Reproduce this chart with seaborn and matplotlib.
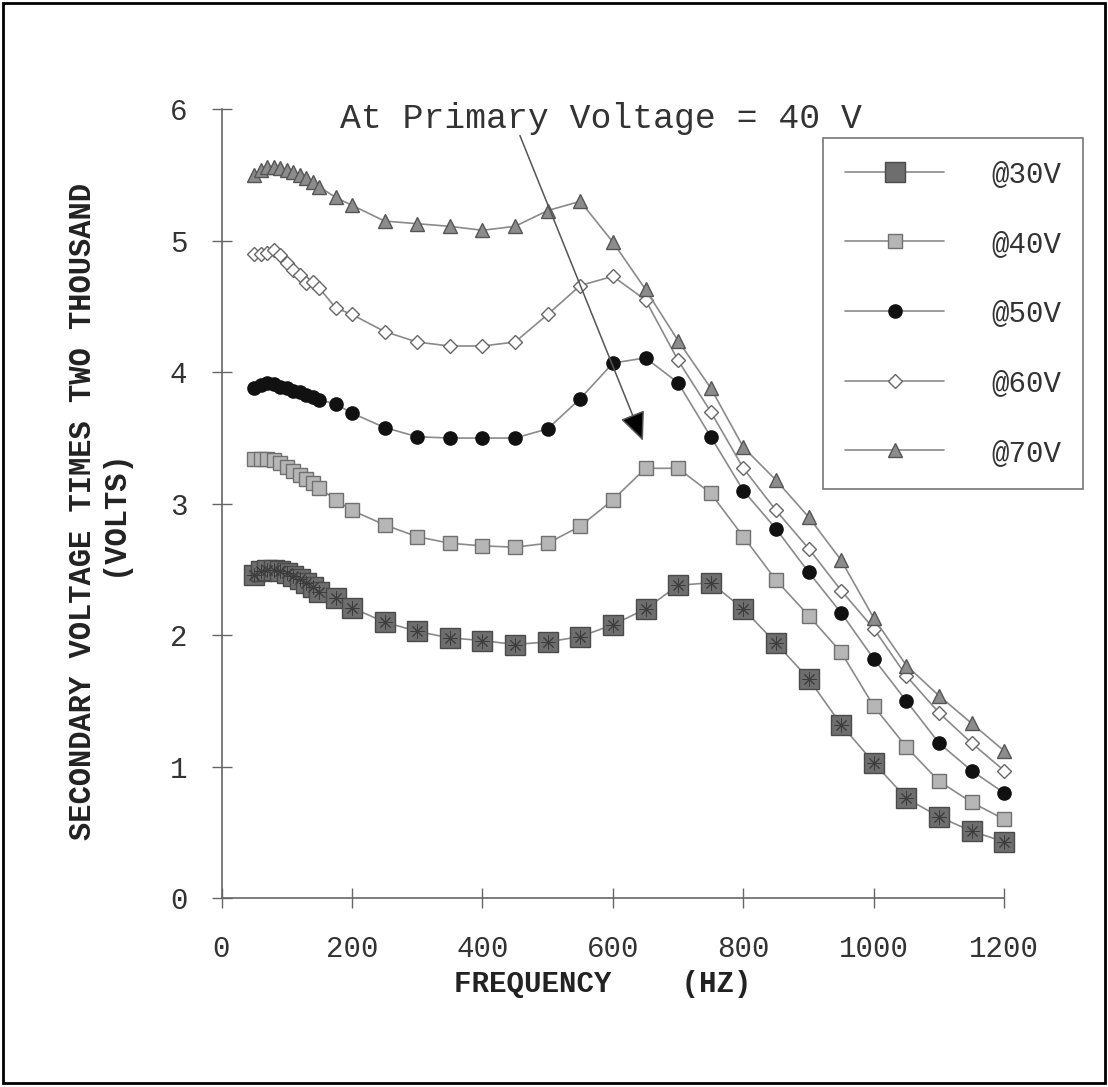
import matplotlib
matplotlib.use("Agg")
import matplotlib.pyplot as plt
from matplotlib.patches import Rectangle
import seaborn as sns

# Frequency sweep (Hz)
freq = [50, 60, 70, 80, 90, 100, 110, 120, 130, 140, 150, 175, 200,
        250, 300, 350, 400, 450, 500, 550, 600, 650, 700, 750, 800,
        850, 900, 950, 1000, 1050, 1100, 1150, 1200]

# Secondary voltage (x2000) for each primary voltage
v30 = [2.46, 2.49, 2.50, 2.50, 2.49, 2.47, 2.45, 2.43, 2.40, 2.37, 2.33, 2.28, 2.21,
       2.10, 2.03, 1.98, 1.96, 1.93, 1.95, 1.99, 2.08, 2.20, 2.38, 2.40, 2.20,
       1.94, 1.67, 1.32, 1.03, 0.76, 0.62, 0.51, 0.43]
v40 = [3.34, 3.34, 3.34, 3.33, 3.31, 3.28, 3.25, 3.22, 3.19, 3.16, 3.12, 3.03, 2.95,
       2.84, 2.75, 2.70, 2.68, 2.67, 2.70, 2.83, 3.03, 3.27, 3.27, 3.08, 2.75,
       2.42, 2.15, 1.87, 1.46, 1.15, 0.89, 0.73, 0.60]
v50 = [3.88, 3.90, 3.92, 3.91, 3.89, 3.88, 3.86, 3.85, 3.83, 3.81, 3.79, 3.76, 3.69,
       3.58, 3.51, 3.50, 3.50, 3.50, 3.57, 3.80, 4.07, 4.11, 3.92, 3.51, 3.10,
       2.81, 2.48, 2.17, 1.82, 1.50, 1.18, 0.97, 0.80]
v60 = [4.90, 4.90, 4.91, 4.93, 4.89, 4.83, 4.78, 4.74, 4.68, 4.69, 4.64, 4.49, 4.44,
       4.31, 4.23, 4.20, 4.20, 4.23, 4.44, 4.66, 4.73, 4.55, 4.09, 3.70, 3.27,
       2.95, 2.66, 2.34, 2.05, 1.69, 1.41, 1.18, 0.97]
v70 = [5.50, 5.54, 5.56, 5.56, 5.55, 5.54, 5.52, 5.50, 5.48, 5.45, 5.41, 5.33, 5.27,
       5.15, 5.13, 5.11, 5.08, 5.11, 5.23, 5.30, 4.99, 4.63, 4.24, 3.88, 3.43,
       3.18, 2.90, 2.57, 2.13, 1.77, 1.54, 1.33, 1.12]

labels = ["@30V", "@40V", "@50V", "@60V", "@70V"]
x_ticks = [0, 200, 400, 600, 800, 1000, 1200]
y_ticks = [0, 1, 2, 3, 4, 5, 6]

sns.set_theme(style="white")
plt.rcParams["font.family"] = ["Liberation Mono", "DejaVu Sans"]

fig = plt.figure(figsize=(11.08, 10.87), dpi=100)
ax = fig.add_axes([221.5 / 1108, 1 - 898.3 / 1087,
                   (1004.3 - 221.5) / 1108, (898.3 - 109.3) / 1087])

line_col = "#8a8a8a"
styles = [
    dict(marker="s", markersize=14, markerfacecolor="#6e6e6e", markeredgecolor="#4a4a4a"),
    dict(marker="s", markersize=9.5, markerfacecolor="#b6b6b6", markeredgecolor="#707070"),
    dict(marker="o", markersize=9.5, markerfacecolor="#111111", markeredgecolor="#111111"),
    dict(marker="D", markersize=7.5, markerfacecolor="white", markeredgecolor="#666666"),
    dict(marker="^", markersize=10, markerfacecolor="#8c8c8c", markeredgecolor="#555555"),
]
series = [v30, v40, v50, v60, v70]

for vals, lab, st in zip(series, labels, styles):
    sns.lineplot(x=freq, y=vals, ax=ax, color=line_col, linewidth=1.2,
                 label=lab, clip_on=False, markeredgewidth=1.0, **st)

# asterisk texture on the 30 V squares
sns.lineplot(x=freq, y=v30, ax=ax, color="none", linewidth=0, marker=(8, 2, 0),
             markersize=10, markeredgecolor="#3c3c3c", markeredgewidth=0.7,
             clip_on=False, legend=False)

ax.set_xlim(0, 1200)
ax.set_ylim(0, 6)
ax.set_xticks(x_ticks)
ax.set_yticks(y_ticks)
ax.set_xticklabels([str(t) for t in x_ticks])
ax.set_yticklabels([str(t) for t in y_ticks])

for s in ["top", "right"]:
    ax.spines[s].set_visible(False)
for s in ["left", "bottom"]:
    ax.spines[s].set_color("#666666")
    ax.spines[s].set_linewidth(1.2)

ax.tick_params(axis="both", which="major", bottom=True, left=True,
               direction="inout", length=15, width=1.0,
               color="#666666", labelsize=21, labelcolor="#333333")
ax.tick_params(axis="y", pad=17)
ax.tick_params(axis="x", pad=19)

ax.set_xlabel("FREQUENCY    (HZ)", fontsize=21, fontweight="bold", color="#222222",
              va="center")
ax.xaxis.set_label_coords((603 - 221.5) / 783, -(984 - 898.3) / 789)
ax.set_ylabel("SECONDARY VOLTAGE TIMES TWO THOUSAND\n(VOLTS)", fontsize=22,
              fontweight="bold", color="#222222", va="center", linespacing=1.05)
ax.yaxis.set_label_coords((98.5 - 221.5) / 783, 0.49)

# annotation of the 40 V curve
ax.text(181.6, 5.93, "At Primary Voltage = 40 V", fontsize=25, color="#333333",
        ha="left", va="center")
ax.annotate("", xy=(646, 3.48), xytext=(457.5, 5.80),
            arrowprops=dict(arrowstyle="-|>,head_length=0.9,head_width=0.4",
                            mutation_scale=20, facecolor="black",
                            edgecolor="#555555", linewidth=1.1,
                            shrinkA=0, shrinkB=0))

leg = ax.legend(loc="upper right", bbox_to_anchor=(1083 / 1108, 1 - 138 / 1087),
                bbox_transform=fig.transFigure, borderaxespad=0, borderpad=0.75,
                handlelength=3.4, handletextpad=1.6, labelspacing=1.43,
                fontsize=21, frameon=True, fancybox=False, framealpha=1)
leg.get_frame().set_edgecolor("#777777")
leg.get_frame().set_linewidth(1.2)
for t in leg.get_texts():
    t.set_color("#333333")

# outer frame
fig.patches.append(Rectangle((0.003, 0.004), 0.994, 0.993, transform=fig.transFigure,
                             fill=False, edgecolor="black", linewidth=2))

fig.savefig("out.png", dpi=100, facecolor="white")
